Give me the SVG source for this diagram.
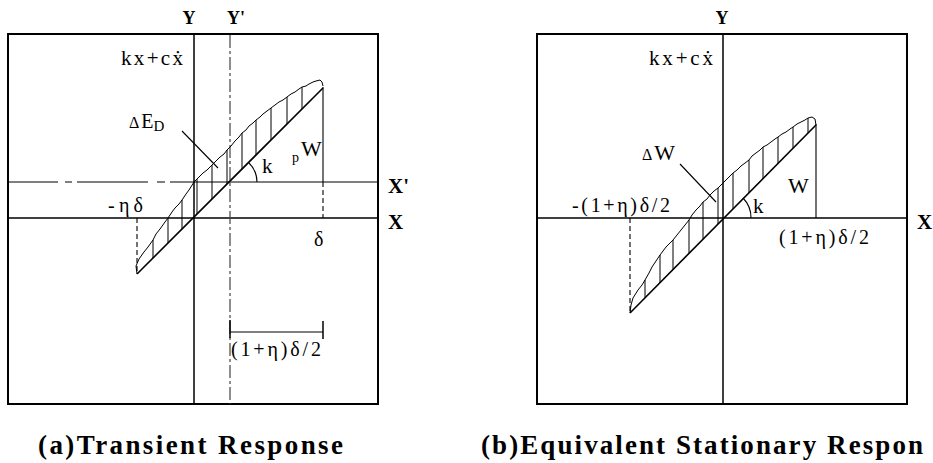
<svg xmlns="http://www.w3.org/2000/svg" width="933" height="463" viewBox="0 0 933 463">
<style>
.frame{fill:none;stroke:#000;stroke-width:2}
.axis{stroke:#000;stroke-width:1.5;fill:none}
.thin{stroke:#000;stroke-width:1.1;fill:none}
.hatch{stroke:#000;stroke-width:1;fill:none}
.dash{stroke:#000;stroke-width:1.1;stroke-dasharray:5 3;fill:none}
.dashdot{stroke:#444;stroke-width:1.2;stroke-dasharray:13 3 3 3;fill:none}
.curve{stroke:#000;stroke-width:1;fill:none;stroke-linejoin:round}
.main{stroke:#000;stroke-width:1.6;fill:none}
text{font-family:"Liberation Serif","Times New Roman",serif;fill:#000}
.lbl{font-size:21px}
.ax{font-size:21px;font-weight:bold}
.axy{font-size:18px;font-weight:bold}
.cap{font-size:27px;font-weight:bold}
</style>

<g id="panel-a">
  <rect class="frame" x="8" y="34" width="370" height="370"/>
  <g id="a-axes">
    <line class="axis" x1="194" y1="34" x2="194" y2="404"/>
    <line class="axis" x1="8" y1="218" x2="378" y2="218"/>
    <line class="dashdot" x1="230" y1="35" x2="230" y2="404"/>
    <path class="thin" d="M8 182H58M65 182H72M77 182H148M157 182H165M170 182H378"/>
  </g>
  <g id="a-loop">
    <polyline class="curve" points="137,274 136,266 139,259 144,252 148,247 153,240 156,234 160,229 165,222 168,218 172,212 175,208 179,204 182,200 186,194 189,190 194,182 198,178 203,173 207,170 212,165 216,161 220,157 224,154 227,150 231,146 235,141 239,137 242,133 246,130 249,126 253,123 256,120 260,117 263,114 267,111 271,108 275,105 279,102 283,100 287,97 291,94 295,92 299,89 302,87 306,86 309,84 313,82 316,81 320,80 322,82 323,86"/>
    <line class="main" x1="137" y1="274" x2="323" y2="88"/>
    <path class="hatch" d="M153 240V258M168 218V243M182 200V229M197 179V214M212 165V199M227 150V184M242 133V169M256 120V155M271 108V140M287 97V124M302 87V109"/>
    <line class="thin" x1="323" y1="87" x2="323" y2="182"/>
    <line class="dash" x1="323" y1="182" x2="323" y2="218"/>
    <line class="dash" x1="137" y1="218" x2="137" y2="274"/>
    <path class="thin" d="M249 163A27 27 0 0 1 257 182"/>
    <line class="thin" x1="182" y1="131" x2="218" y2="168"/>
  </g>
  <g id="a-dimension">
    <line class="thin" x1="230" y1="332" x2="323" y2="332"/>
    <line class="axis" x1="230" y1="320" x2="230" y2="338"/>
    <line class="axis" x1="323" y1="321" x2="323" y2="339"/>
  </g>
  <g id="a-labels">
    <text class="axy" x="189" y="24" text-anchor="middle">Y</text>
    <text class="axy" x="227" y="24">Y'</text>
    <text class="lbl" x="121" y="65" textLength="62" lengthAdjust="spacing">kx+cẋ</text>
    <text x="129" y="128" font-size="20"><tspan font-size="16">Δ</tspan><tspan dx="2">E</tspan><tspan font-size="15" dy="3">D</tspan></text>
    <text x="262" y="173" font-size="21">k</text>
    <text x="292" y="162" font-size="14">p</text>
    <text x="301" y="156" font-size="22">W</text>
    <text class="ax" x="388" y="193">X'</text>
    <text class="ax" x="388" y="229">X</text>
    <text x="108" y="212" font-size="20" textLength="35" lengthAdjust="spacing">-ηδ</text>
    <text x="314" y="246" font-size="20">δ</text>
    <text x="231" y="356" font-size="20" textLength="90" lengthAdjust="spacing">(1+η)δ/2</text>
    <text class="cap" x="38" y="454" textLength="305" lengthAdjust="spacing">(a)Transient Response</text>
  </g>
</g>

<g id="panel-b">
  <rect class="frame" x="537" y="34" width="370" height="370"/>
  <g id="b-axes">
    <line class="axis" x1="723" y1="34" x2="723" y2="404"/>
    <line class="axis" x1="537" y1="218" x2="907" y2="218"/>
  </g>
  <g id="b-loop">
    <polyline class="curve" points="630,313 631,305 633,298 638,290 642,285 645,280 649,273 652,267 656,261 660,255 663,251 666,247 670,243 673,240 677,235 681,230 685,225 689,220 692,215 696,210 700,206 703,202 707,199 710,195 714,191 718,188 722,184 726,180 730,176 733,173 737,170 741,166 745,163 749,160 752,156 756,153 760,150 763,147 767,145 771,142 775,139 778,137 782,134 786,132 790,129 793,127 797,124 801,122 805,120 808,118 812,117 815,119 816,125"/>
    <line class="main" x1="630" y1="313" x2="816" y2="125"/>
    <path class="hatch" d="M645 280V298M660 255V283M673 240V270M689 220V253M703 202V239M718 188V224M733 173V209M749 160V193M763 147V179M778 137V163M793 127V148M808 118V133"/>
    <line class="thin" x1="816" y1="124" x2="816" y2="218"/>
    <line class="dash" x1="630" y1="218" x2="630" y2="313"/>
    <path class="thin" d="M743 198A28 28 0 0 1 751 218"/>
    <line class="thin" x1="680" y1="164" x2="716" y2="202"/>
  </g>
  <g id="b-labels">
    <text class="axy" x="722" y="24" text-anchor="middle">Y</text>
    <text class="lbl" x="649" y="65" textLength="64" lengthAdjust="spacing">kx+cẋ</text>
    <text x="642" y="160" font-size="22"><tspan font-size="16">Δ</tspan><tspan dx="2">W</tspan></text>
    <text x="788" y="193" font-size="22">W</text>
    <text x="753" y="213" font-size="21">k</text>
    <text x="572" y="212" font-size="20" textLength="98" lengthAdjust="spacing">-(1+η)δ/2</text>
    <text x="779" y="244" font-size="20" textLength="90" lengthAdjust="spacing">(1+η)δ/2</text>
    <text class="ax" x="917" y="229">X</text>
    <text class="cap" x="481" y="454" textLength="442" lengthAdjust="spacing">(b)Equivalent Stationary Respon</text>
  </g>
</g>
</svg>
